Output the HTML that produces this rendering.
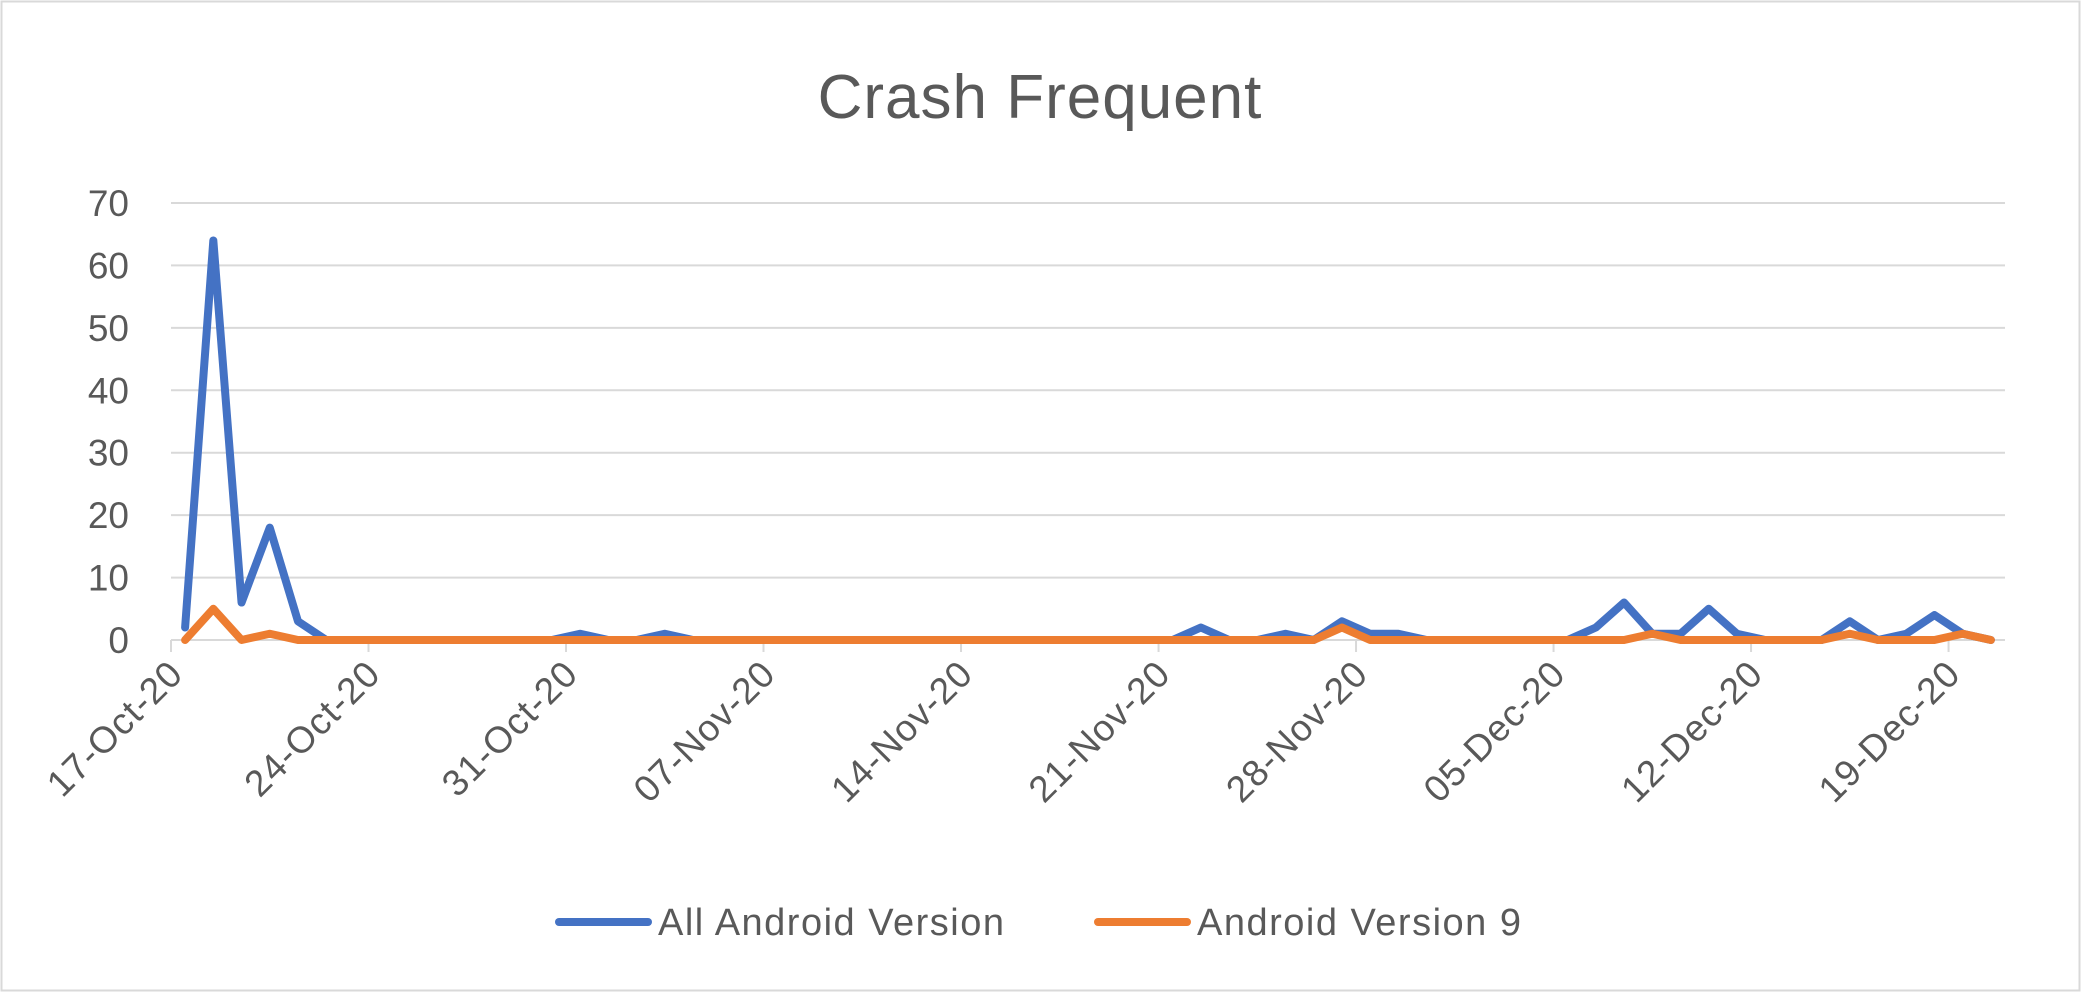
<!DOCTYPE html>
<html><head><meta charset="utf-8"><style>
html,body{margin:0;padding:0;background:#fff;}
svg{display:block;font-family:"Liberation Sans",sans-serif;}
</style></head><body>
<svg id="chart" width="2081" height="992" viewBox="0 0 2081 992" xmlns="http://www.w3.org/2000/svg">
<rect x="1.5" y="1.5" width="2078" height="989" fill="#fff" stroke="#d9d9d9" stroke-width="2"/>
<text x="1040" y="118" text-anchor="middle" font-size="62" letter-spacing="1" fill="#595959">Crash Frequent</text>
<g id="grid"></g><g id="yticks"></g><g id="xticks"></g><g id="series"></g>
<g>
<g>
<line x1="559" y1="922" x2="648" y2="922" stroke="#4472c4" stroke-width="8" stroke-linecap="round"/>
<text x="658" y="935" font-size="38" letter-spacing="1.5" fill="#595959">All Android Version</text></g>
<g>
<line x1="1098" y1="922" x2="1187" y2="922" stroke="#ed7d31" stroke-width="8" stroke-linecap="round"/>
<text x="1197" y="935" font-size="38" letter-spacing="1.5" fill="#595959">Android Version 9</text></g>
</g>
</svg>
<script>
const tickLabels=["17-Oct-20","24-Oct-20","31-Oct-20","07-Nov-20","14-Nov-20","21-Nov-20","28-Nov-20","05-Dec-20","12-Dec-20","19-Dec-20"];
const yTicks=[0,10,20,30,40,50,60,70];
const allAndroid=[2,64,6,18,3,0,0,0,0,0,0,0,0,0,1,0,0,1,0,0,0,0,0,0,0,0,0,0,0,0,0,0,0,0,0,0,2,0,0,1,0,3,1,1,0,0,0,0,0,0,2,6,1,1,5,1,0,0,0,3,0,1,4,1,0];
const android9=[0,5,0,1,0,0,0,0,0,0,0,0,0,0,0,0,0,0,0,0,0,0,0,0,0,0,0,0,0,0,0,0,0,0,0,0,0,0,0,0,0,2,0,0,0,0,0,0,0,0,0,0,1,0,0,0,0,0,0,1,0,0,0,1,0];
const NS="http://www.w3.org/2000/svg";
const L=171,R=2005,T=203,B=640,nDays=65,yMax=70;
const dw=(R-L)/nDays;
const xTick=i=>L+i*7*dw;
const xPt=d=>L+(d+0.5)*dw;
const y=v=>B-(v/yMax)*(B-T);
function mk(tag,attrs,parent){const e=document.createElementNS(NS,tag);for(const k in attrs)e.setAttribute(k,attrs[k]);parent.appendChild(e);return e;}
const grid=document.getElementById('grid'),yt=document.getElementById('yticks'),xt=document.getElementById('xticks'),ser=document.getElementById('series');
yTicks.forEach(v=>{
 const g=mk('line',{x1:L,x2:R,y1:y(v),y2:y(v),stroke:'#d9d9d9','stroke-width':2},grid);
 
 
 const t=mk('text',{x:129,y:y(v)+13,'text-anchor':'end','font-size':37,fill:'#595959'},yt);
 t.textContent=v;
 
 
});
tickLabels.forEach((lab,i)=>{
 const x=xTick(i);
 const tk=mk('line',{x1:x,x2:x,y1:B,y2:B+12,stroke:'#d9d9d9','stroke-width':2},xt);
 
 
 const t=mk('text',{x:x+14,y:B+36,'text-anchor':'end','font-size':37,'letter-spacing':1,fill:'#595959',transform:`rotate(-45 ${x+14} ${B+36})`},xt);
 t.textContent=lab;
 
 
});
function line(data,color,name){
 const p=mk('polyline',{points:data.map((v,d)=>xPt(d)+','+y(v)).join(' '),fill:'none',stroke:color,'stroke-width':8,'stroke-linejoin':'round','stroke-linecap':'round'},ser);
 
 
}
line(allAndroid,'#4472c4','all-android-version-line');
line(android9,'#ed7d31','android-version-9-line');
</script>
</body></html>
